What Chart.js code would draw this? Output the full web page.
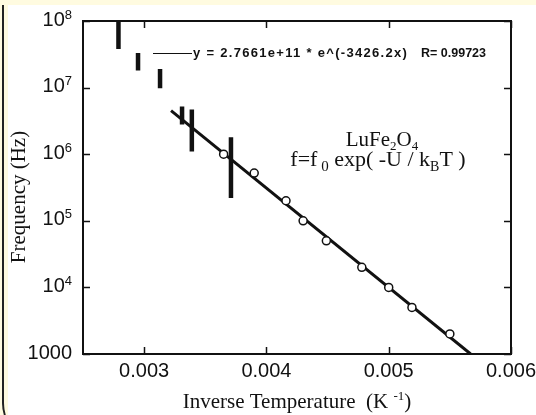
<!DOCTYPE html>
<html>
<head>
<meta charset="utf-8">
<script src="https://cdn.jsdelivr.net/npm/chart.js@4.4.1/dist/chart.umd.min.js"></script>
<style>
    html, body { margin: 0; padding: 0; }
    body { width: 536px; height: 415px; background: #fffbe0; position: relative; overflow: hidden; }
    #edge { position: absolute; left: 2px; top: 5px; width: 60px; height: 438px; border-left: 2px solid #222; border-bottom-left-radius: 40px; }
    #panel { position: absolute; left: 8px; top: 5px; width: 528px; height: 410px; background: #fff; }
</style>
</head>
<body>
<div id="edge"></div>
<div id="panel"><canvas id="chart" width="528" height="410"></canvas></div>
<script>
// measured points (inverse temperature, frequency)
const invT = [0.00365, 0.00390, 0.00416, 0.00430, 0.00449, 0.00478, 0.00500, 0.00519, 0.00550];
const freq = [1.0e6, 5.2e5, 2.0e5, 1.0e5, 5.0e4, 2.0e4, 1.0e4, 5.0e3, 2.0e3];

// vertical range bars
const barX = [0.00279, 0.00295, 0.00313, 0.00331, 0.00339, 0.00371];
const barHigh = [1.0e8, 3.3e7, 1.9e7, 5.2e6, 4.7e6, 1.8e6];
const barLow = [3.8e7, 1.8e7, 9.8e6, 2.8e6, 1.1e6, 2.2e5];

// fit line end points
const fitX = [0.00322, 0.00567];
const fitY = [4.5e6, 1.0e3];

// axes
const xTicks = [0.003, 0.004, 0.005, 0.006];
const xTickLabels = ['0.003', '0.004', '0.005', '0.006'];
const yTicks = [1e3, 1e4, 1e5, 1e6, 1e7, 1e8];
const yTickLabels = [['1000', ''], ['10', '4'], ['10', '5'], ['10', '6'], ['10', '7'], ['10', '8']];

const SANS = '"Liberation Sans", Arial, Helvetica, sans-serif';
const SERIF = '"Liberation Serif", "Times New Roman", Times, serif';
const INK = '#111';

// draws text pieces; each piece [text, size, dy]
function runs(ctx, parts, x, y, align, family) {
    let total = 0;
    parts.forEach(p => {
        ctx.font = p[1] + 'px ' + family;
        total += ctx.measureText(p[0]).width;
    });
    let cx = align === 'center' ? x - total / 2 : (align === 'right' ? x - total : x);
    ctx.textAlign = 'left';
    ctx.textBaseline = 'alphabetic';
    parts.forEach(p => {
        ctx.font = p[1] + 'px ' + family;
        ctx.fillText(p[0], cx, y + (p[2] || 0));
        cx += ctx.measureText(p[0]).width;
    });
}

const decor = {
    id: 'decor',
    afterDatasetsDraw(chart) {
        const ctx = chart.ctx;
        const a = chart.chartArea;
        const xs = chart.scales.x, ys = chart.scales.y;
        ctx.save();
        ctx.strokeStyle = INK;
        ctx.fillStyle = INK;
        ctx.lineWidth = 2;
        ctx.strokeRect(a.left, a.top, a.right - a.left, a.bottom - a.top);

        // inward ticks on all sides
        ctx.lineWidth = 1.5;
        ctx.beginPath();
        xTicks.forEach(v => {
            const px = Math.round(xs.getPixelForValue(v)) + 0.5;
            ctx.moveTo(px, a.bottom); ctx.lineTo(px, a.bottom - 7);
            ctx.moveTo(px, a.top); ctx.lineTo(px, a.top + 7);
        });
        yTicks.forEach(v => {
            const py = Math.round(ys.getPixelForValue(v)) + 0.5;
            ctx.moveTo(a.left, py); ctx.lineTo(a.left + 7, py);
            ctx.moveTo(a.right, py); ctx.lineTo(a.right - 7, py);
        });
        ctx.stroke();

        // tick labels
        xTicks.forEach((v, i) => {
            runs(ctx, [[xTickLabels[i], 20]], xs.getPixelForValue(v), a.bottom + 23, 'center', SANS);
        });
        yTicks.forEach((v, i) => {
            const py = ys.getPixelForValue(v);
            const lab = yTickLabels[i];
            const parts = [[lab[0], 20, 0]];
            if (lab[1]) parts.push([lab[1], 13, -7]);
            runs(ctx, parts, a.left - 11, py + 4.5, 'right', SANS);
        });

        // axis titles
        runs(ctx, [['Inverse Temperature  (K ', 21], ['-1', 13, -8], [')', 21]],
            (a.left + a.right) / 2, 403, 'center', SERIF);
        ctx.save();
        ctx.translate(17, 192);
        ctx.rotate(-Math.PI / 2);
        runs(ctx, [['Frequency (Hz)', 21]], 0, 0, 'center', SERIF);
        ctx.restore();

        // fit legend
        ctx.lineWidth = 1.2;
        ctx.beginPath();
        ctx.moveTo(145, 48.5); ctx.lineTo(184, 48.5);
        ctx.stroke();
        ctx.font = 'bold 13px ' + SANS;
        ctx.textBaseline = 'alphabetic';
        ctx.textAlign = 'left';
        ctx.letterSpacing = '1.3px';
        ctx.fillText('y = 2.7661e+11 * e^(-3426.2x)', 185, 52);
        ctx.letterSpacing = '0px';
        ctx.font = 'bold 12.5px ' + SANS;
        ctx.textAlign = 'right';
        ctx.fillText('R= 0.99723', 478, 52);

        // material label and formula
        runs(ctx, [['LuFe', 21], ['2', 13, 4], ['O', 21], ['4', 13, 4]], 374, 141, 'center', SERIF);
        runs(ctx, [['f=f', 22], [' 0', 15, 5], [' exp( -U / k', 22], ['B', 14, 5], ['T )', 22]],
            370, 161, 'center', SERIF);
        ctx.restore();
    }
};

const datasets = [
    {
        data: invT.map((x, i) => ({ x: x, y: freq[i] })),
        showLine: false,
        pointRadius: 4,
        pointBorderWidth: 1.5,
        pointBackgroundColor: '#fff',
        pointBorderColor: INK
    },
    {
        data: fitX.map((x, i) => ({ x: x, y: fitY[i] })),
        showLine: true,
        borderColor: INK,
        borderWidth: 3,
        pointRadius: 0
    }
];
barX.forEach((x, i) => {
    datasets.push({
        data: [{ x: x, y: barHigh[i] }, { x: x, y: barLow[i] }],
        showLine: true,
        borderColor: INK,
        borderWidth: 4.5,
        borderCapStyle: 'butt',
        pointRadius: 0
    });
});

new Chart(document.getElementById('chart').getContext('2d'), {
    type: 'scatter',
    data: { datasets: datasets },
    options: {
        responsive: false,
        animation: false,
        devicePixelRatio: 1,
        layout: { padding: { left: 75, top: 16, right: 25, bottom: 61 } },
        plugins: { legend: { display: false }, tooltip: { enabled: false } },
        scales: {
            x: { type: 'linear', min: 0.0025, max: 0.006, display: false },
            y: { type: 'logarithmic', min: 1000, max: 1e8, display: false }
        }
    },
    plugins: [decor]
});
</script>
</body>
</html>
